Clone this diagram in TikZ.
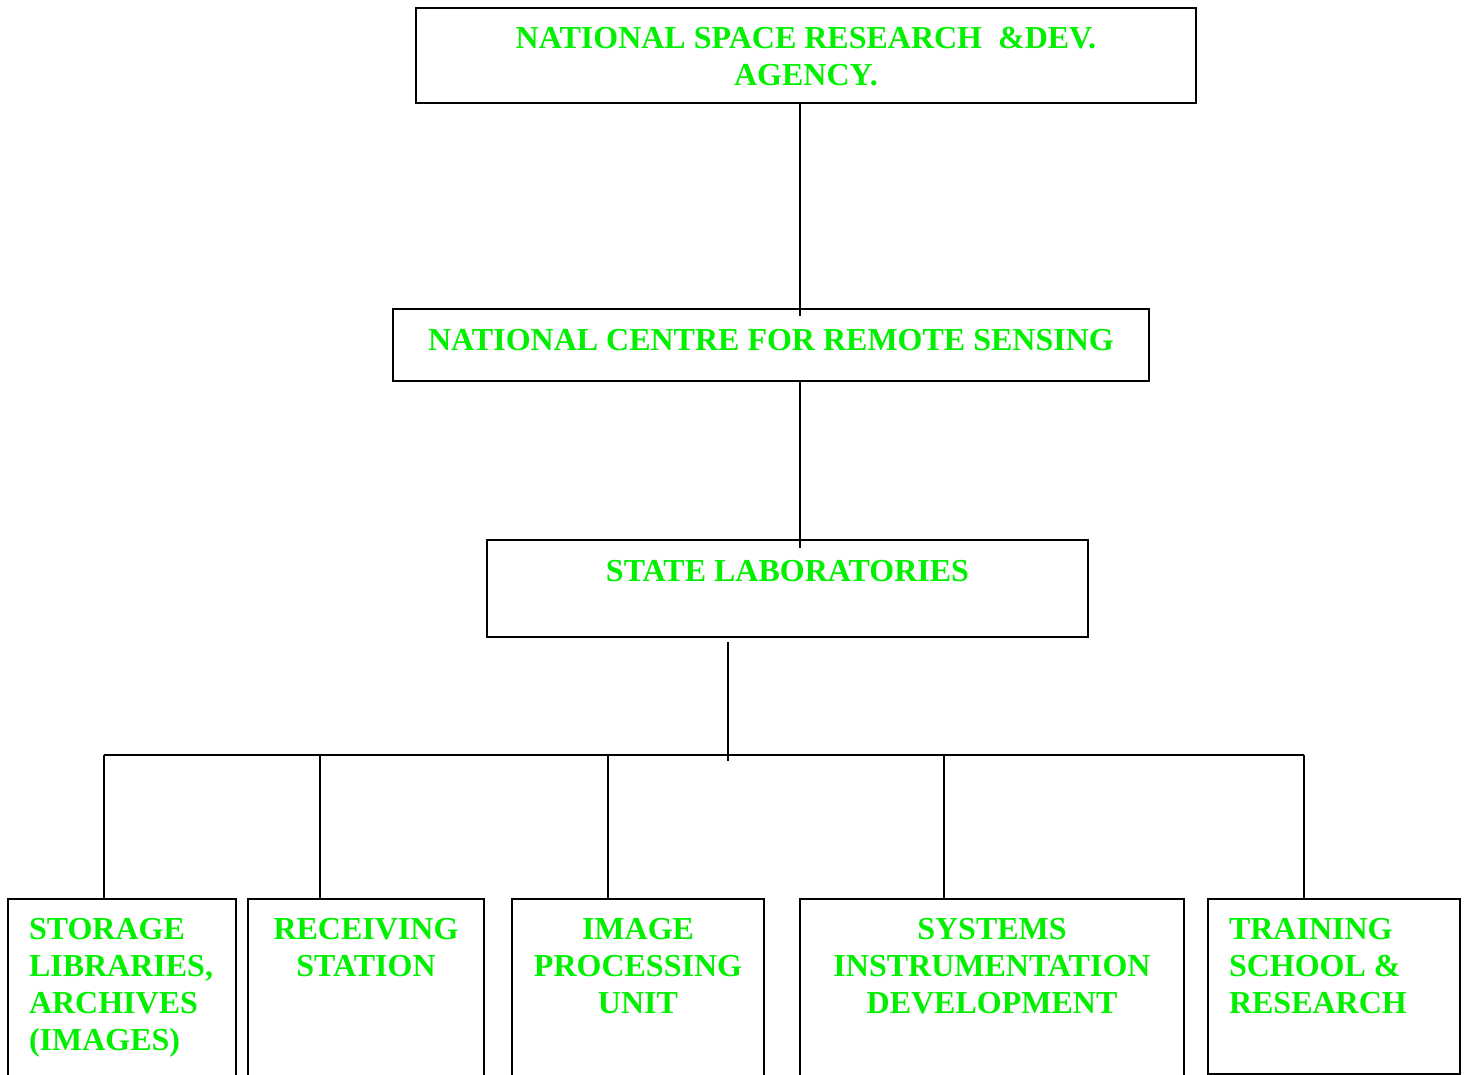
\documentclass[tikz,border=0pt]{standalone}
\usepackage{fontspec}
\setmainfont{Liberation Serif}
\usetikzlibrary{positioning}
\definecolor{labelgreen}{RGB}{0,240,0}
\tikzset{
  unitbox/.style={draw,line width=1pt,inner sep=0pt},
  unittext/.style={inner sep=0pt,text=labelgreen,align=center,
    font=\bfseries\fontsize{16}{18.5}\selectfont},
  lefttext/.style={unittext,align=left},
}

\begin{document}
\begin{tikzpicture}[x=0.5pt,y=-0.5pt,line width=1pt]
\useasboundingbox (0,0) rectangle (1468,1075);
\clip (0,0) rectangle (1468,1075);

% upper levels
\node[unitbox,minimum width=390pt,minimum height=47.5pt] (nsrda) at (806,55.5) {};
\node[unittext,below=9.7pt of nsrda.north] (nsrdatxt) {NATIONAL SPACE RESEARCH\ \ \&DEV.\\AGENCY.};
\node[unitbox,minimum width=378pt,minimum height=36pt] (ncrs) at (771,345) {};
\node[unittext,below=10.2pt of ncrs.north] (ncrstxt) {NATIONAL CENTRE FOR REMOTE SENSING};
\node[unitbox,minimum width=300.5pt,minimum height=48.5pt] (state) at (787.5,588.5) {};
\node[unittext,below=10.2pt of state.north] (statetxt) {STATE LABORATORIES};

% bottom units
\node[unitbox,anchor=north,minimum width=114pt,minimum height=100pt] (store) at (122,898) {};
\node[unitbox,anchor=north,minimum width=118pt,minimum height=100pt] (recv) at (366,898) {};
\node[unitbox,anchor=north,minimum width=126pt,minimum height=100pt] (proc) at (638,898) {};
\node[unitbox,anchor=north,minimum width=192pt,minimum height=100pt] (inst) at (992,898) {};
\node[unitbox,anchor=north,minimum width=126pt,minimum height=87.5pt] (train) at (1334,898) {};

\node[lefttext,below right=9.7pt and 10.5pt of store.north west] (storetxt) {STORAGE\\LIBRARIES,\\ARCHIVES\\(IMAGES)};
\node[unittext,below=9.7pt of recv.north] (recvtxt) {RECEIVING\\STATION};
\node[unittext,below=9.7pt of proc.north] (proctxt) {IMAGE\\PROCESSING\\UNIT};
\node[unittext,below=9.7pt of inst.north] (insttxt) {SYSTEMS\\INSTRUMENTATION\\DEVELOPMENT};
\node[lefttext,below right=9.7pt and 10.5pt of train.north west] (traintxt) {TRAINING\\SCHOOL \&\\RESEARCH};

% connectors
\coordinate (spine) at (800,0);
\coordinate (stem) at (728,0);
\coordinate (busL) at (104,755);
\coordinate (busR) at (1304,755);
\draw (nsrda.south -| spine) -- ([yshift=-4pt]ncrs.north -| spine);
\draw (ncrs.south -| spine) -- ([yshift=-4.5pt]state.north -| spine);
\draw ([yshift=-2pt]state.south -| stem) -- ([yshift=-3pt]busL -| stem);
\draw (busL) -- (busR);
\foreach \n/\x in {store/104,recv/320,proc/608,inst/944,train/1304}{
  \coordinate (d\n) at (\x,755);
  \draw (d\n) -- (\n.north -| d\n);
}
\end{tikzpicture}
\end{document}
